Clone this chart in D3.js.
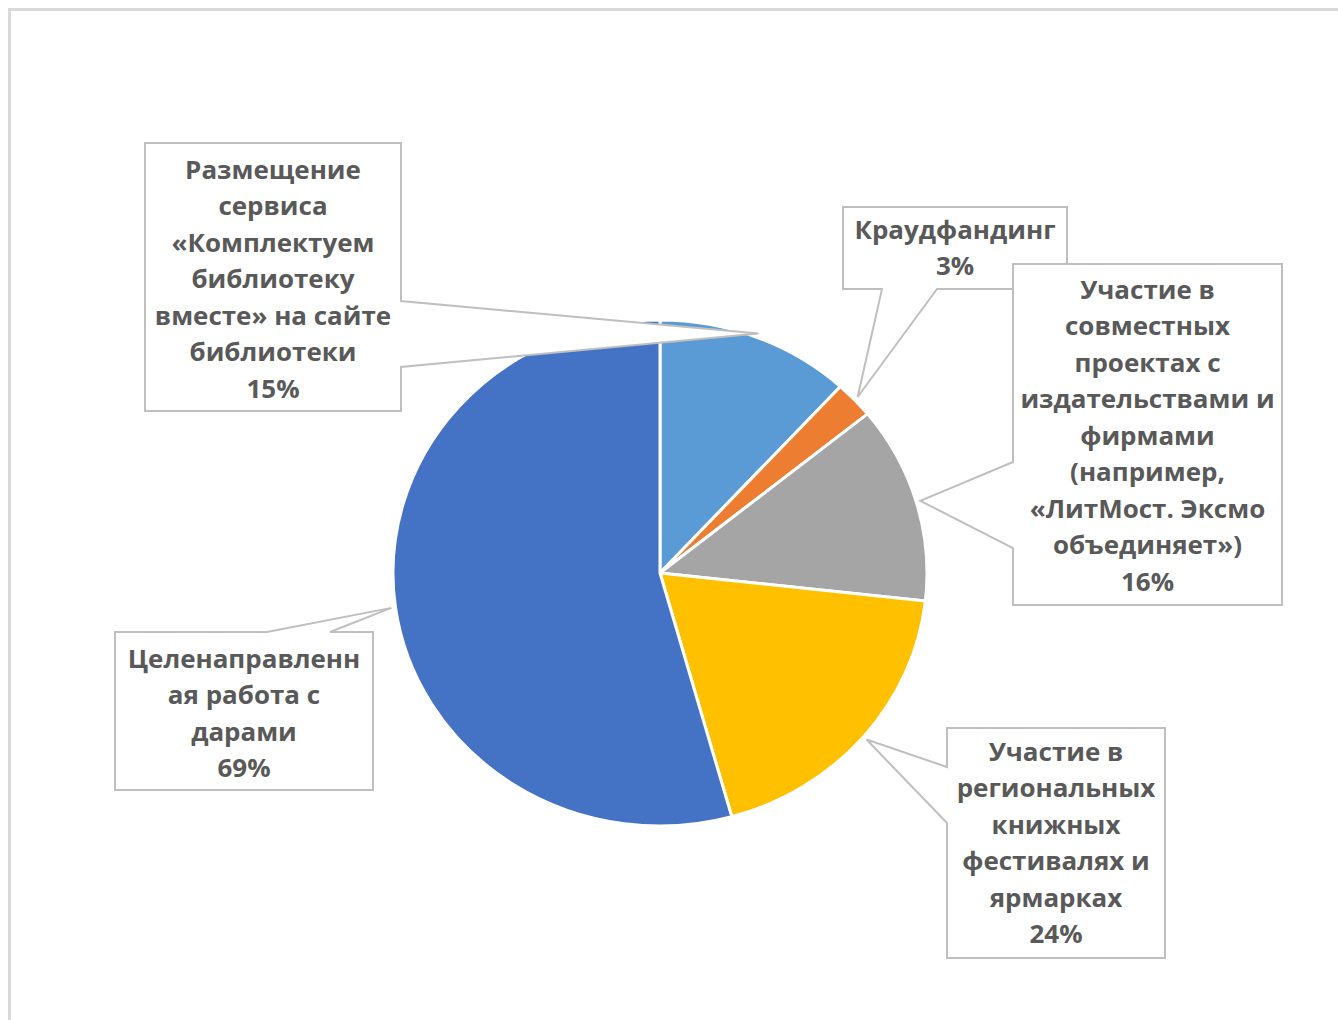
<!DOCTYPE html>
<html>
<head>
<meta charset="utf-8">
<script src="https://cdn.jsdelivr.net/npm/d3@7"></script>
<style>
  html, body { margin: 0; padding: 0; background: #ffffff; }
  svg { display: block; }
</style>
</head>
<body>
<svg id="chart" width="1338" height="1020"></svg>
<script>
// ---- data ----
const categories = [
  ["Размещение", "сервиса", "«Комплектуем", "библиотеку", "вместе» на сайте", "библиотеки"],
  ["Краудфандинг"],
  ["Участие в", "совместных", "проектах с", "издательствами и", "фирмами", "(например,", "«ЛитМост. Эксмо", "объединяет»)"],
  ["Участие в", "региональных", "книжных", "фестивалях и", "ярмарках"],
  ["Целенаправленн", "ая работа с", "дарами"]
];
const values = [15, 3, 16, 24, 69];
const valueLabels = ["15%", "3%", "16%", "24%", "69%"];
const colors = ["#5B9BD5", "#ED7D31", "#A5A5A5", "#FFC000", "#4472C4"];

// ---- layout (callout boxes: x0, y0, x1, y1, pointer side, pointer base a, b) ----
const boxes = [
  { x0: 145, y0: 143, x1: 401, y1: 411, side: "right",  a: 301, b: 367, firstLine: 170 },
  { x0: 843, y0: 207, x1: 1067, y1: 289, side: "bottom", a: 882, b: 937, firstLine: 230 },
  { x0: 1013, y0: 264, x1: 1282, y1: 605, side: "left",  a: 462, b: 548, firstLine: 290 },
  { x0: 947, y0: 728, x1: 1165, y1: 958, side: "left",   a: 767, b: 823, firstLine: 752 },
  { x0: 115, y0: 632, x1: 373, y1: 790, side: "top",     a: 267, b: 330, firstLine: 659 }
];
const drawOrder = [4, 3, 1, 2, 0];

const cx = 660, cy = 573, R = 253, sx = 267 / 253;
const lineStep = 36.5;

const svg = d3.select("#chart");

// outer chart border
svg.append("rect")
  .attr("x", 9.5).attr("y", 9.5)
  .attr("width", 1338).attr("height", 1020)
  .attr("fill", "#ffffff")
  .attr("stroke", "#d9d9d9").attr("stroke-width", 3);

const pie = d3.pie().sort(null).value(d => d)(values);
const arc = d3.arc().innerRadius(0).outerRadius(R);
const tipArc = d3.arc().innerRadius(R + 4).outerRadius(R + 4);

const g = svg.append("g").attr("transform", `translate(${cx},${cy}) scale(${sx},1)`);
g.selectAll("path")
  .data(pie)
  .join("path")
  .attr("d", arc)
  .attr("fill", (d, i) => colors[i])
  .attr("stroke", "#ffffff")
  .attr("stroke-width", 3)
  .attr("vector-effect", "non-scaling-stroke")
  .attr("stroke-linejoin", "round");

function calloutPath(b, tip) {
  const [tx, ty] = tip;
  const p = [];
  if (b.side === "right") {
    p.push([b.x0, b.y0], [b.x1, b.y0], [b.x1, b.a], [tx, ty], [b.x1, b.b], [b.x1, b.y1], [b.x0, b.y1]);
  } else if (b.side === "left") {
    p.push([b.x0, b.y0], [b.x1, b.y0], [b.x1, b.y1], [b.x0, b.y1], [b.x0, b.b], [tx, ty], [b.x0, b.a]);
  } else if (b.side === "bottom") {
    p.push([b.x0, b.y0], [b.x1, b.y0], [b.x1, b.y1], [b.b, b.y1], [tx, ty], [b.a, b.y1], [b.x0, b.y1]);
  } else {
    p.push([b.x0, b.y0], [b.a, b.y0], [tx, ty], [b.b, b.y0], [b.x1, b.y0], [b.x1, b.y1], [b.x0, b.y1]);
  }
  return "M" + p.map(q => q.join(",")).join("L") + "Z";
}

const labels = svg.append("g");
drawOrder.forEach(i => {
  const b = boxes[i];
  const c = tipArc.centroid(pie[i]);
  const tip = [cx + c[0] * sx, cy + c[1]];
  const lg = labels.append("g");
  lg.append("path")
    .attr("d", calloutPath(b, tip))
    .attr("fill", "#ffffff")
    .attr("stroke", "#bfbfbf")
    .attr("stroke-width", 2)
    .attr("stroke-linejoin", "miter");
  const lines = categories[i].concat([valueLabels[i]]);
  const mx = (b.x0 + b.x1) / 2;
  lg.selectAll("text")
    .data(lines)
    .join("text")
    .attr("transform", (d, k) => `translate(${mx},${b.firstLine + k * lineStep}) scale(1.06,1)`)
    .attr("dy", "0.36em")
    .attr("text-anchor", "middle")
    .attr("font-family", "'Open Sans', 'DejaVu Sans', sans-serif")
    .attr("font-weight", 700)
    .attr("font-size", 24.5)
    .attr("fill", "#595959")
    .text(d => d);
});
</script>
</body>
</html>
